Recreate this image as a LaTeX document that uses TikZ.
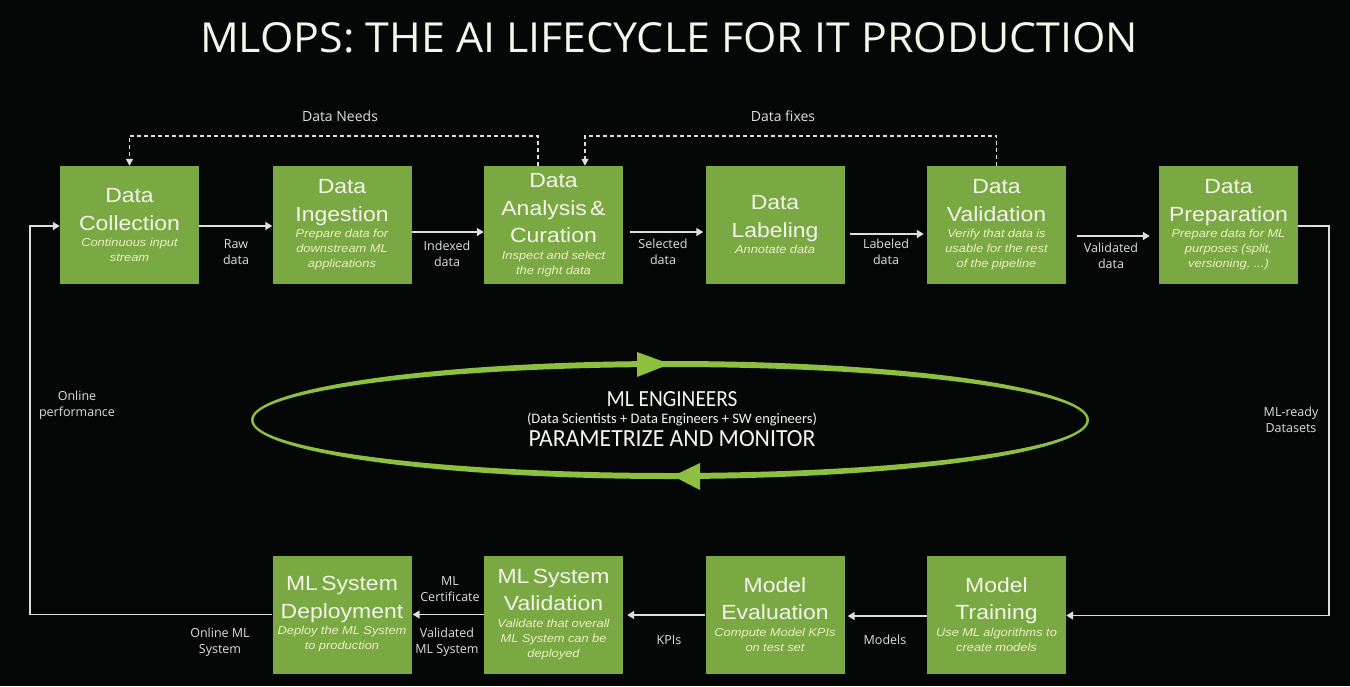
\documentclass[tikz,border=0pt]{standalone}
\usepackage{fontspec}
\usepackage{graphicx}
\usetikzlibrary{arrows.meta,calc}
\setmainfont{Liberation Sans}
\newfontfamily\boxfont[FakeStretch=1.12]{Liberation Sans}
\newfontfamily\labfont{Open Sans}
\newfontfamily\cenfont{Carlito}
\newfontfamily\ttlfont{Open Sans}
\definecolor{boxgreen}{RGB}{122,168,66}
\definecolor{ringgreen}{RGB}{140,192,62}
\definecolor{titlewhite}{RGB}{244,246,236}
\definecolor{subcream}{RGB}{236,240,196}
\definecolor{linegray}{RGB}{222,222,222}
\definecolor{bgcol}{RGB}{5,7,7}
\newcommand{\stagetext}[2]{{\boxfont\fontsize{20.5}{27.5}\selectfont\color{titlewhite}#1\par}\vspace{1.5pt}{\boxfont\itshape\fontsize{11.5}{15}\selectfont\color{subcream}#2\par}}
\tikzset{
  stage/.style={fill=boxgreen, minimum width=139pt, minimum height=118pt, text width=137pt, inner sep=1pt, align=center},
  lab/.style={font=\labfont\fontsize{12.5}{15.5}\selectfont, text=linegray, align=center, inner sep=0pt},
  conn/.style={draw=linegray, line width=1.6pt, -{Triangle[width=8pt,length=7pt]}},
  dconn/.style={draw=linegray, line width=1.4pt, dash pattern=on 4pt off 3pt, -{Triangle[width=7pt,length=7pt]}},
}
\begin{document}
\begin{tikzpicture}[x=1pt,y=-1pt]
\useasboundingbox (0,0) rectangle (1350,686);
\fill[bgcol] (0,0) rectangle (1350,686);

% title
\node[anchor=base west, inner sep=0pt, text=titlewhite] (title) at (200,52) {\resizebox{938pt}{30pt}{\ttlfont\fontsize{40}{40}\selectfont MLOPS: THE AI LIFECYCLE FOR IT PRODUCTION}};

% top row
\node[stage] (dc) at (129.5,225) {\stagetext{Data\\Collection}{Continuous input\\stream}};
\node[stage] (di) at (342,225) {\stagetext{Data\\Ingestion}{Prepare data for\\downstream ML\\applications}};
\node[stage] (da) at (553.5,225) {\stagetext{Data\\Analysis \&\\Curation}{Inspect and select\\the right data}};
\node[stage] (dl) at (775,225) {\stagetext{Data\\Labeling}{Annotate data}};
\node[stage] (dv) at (996.5,225) {\stagetext{Data\\Validation}{Verify that data is\\usable for the rest\\of the pipeline}};
\node[stage] (dp) at (1228.5,225) {\stagetext{Data\\Preparation}{Prepare data for ML\\purposes (split,\\versioning, ...)}};

% bottom row
\node[stage] (md) at (342,614.5) {\stagetext{ML System\\Deployment}{Deploy the ML System\\to production}};
\node[stage] (mv) at (553.5,614.5) {\stagetext{ML System\\Validation}{Validate that overall\\ML System can be\\deployed}};
\node[stage] (me) at (775,614.5) {\stagetext{Model\\Evaluation}{Compute Model KPIs\\on test set}};
\node[stage] (mt) at (996.5,614.5) {\stagetext{Model\\Training}{Use ML algorithms to\\create models}};

% top connectors
\draw[conn] ($(dc.east)+(0,1)$) -- ($(di.west)+(0,1)$);
\draw[conn] ($(di.east)+(0,7)$) -- ($(da.west)+(0,7)$);
\draw[conn, shorten <=7pt, shorten >=2pt] ($(da.east)+(0,7)$) -- ($(dl.west)+(0,7)$);
\draw[conn, shorten <=5pt, shorten >=3pt] ($(dl.east)+(0,9)$) -- ($(dv.west)+(0,9)$);
\draw[conn, shorten <=11pt, shorten >=9pt] ($(dv.east)+(0,11)$) -- ($(dp.west)+(0,11)$);

% bottom connectors
\draw[conn, shorten >=3pt] ($(mt.west)+(0,1.5)$) -- ($(me.east)+(0,1.5)$);
\draw[conn, shorten >=4pt] ($(me.west)+(0,0.5)$) -- ($(mv.east)+(0,0.5)$);
\draw[conn, shorten >=1pt] ($(mv.west)+(0,0)$) -- ($(md.east)+(0,0)$);

% loops
\draw[conn] (md.west) -| ($(dc.west)+(-30,1)$) -- ($(dc.west)+(0,1)$);
\draw[conn] ($(dp.east)+(0,1)$) -- ($(dp.east)+(31,1)$) |- ($(mt.east)+(0,1)$);

% dashed feedback
\draw[dconn] ($(da.north)+(-15.5,0)$) -- ++(0,-30) -| (dc.north);
\draw[dconn] (dv.north) -- ++(0,-30) -| ($(da.north)+(31.5,0)$);

% labels
\node[lab, font=\labfont\fontsize{14}{16}\selectfont] (needs) at (340,116) {Data Needs};
\node[lab, font=\labfont\fontsize{14}{16}\selectfont] (fixes) at (783,116) {Data fixes};
\node[lab] (raw) at (236,252) {Raw\\data};
\node[lab] (idx) at (447,254) {Indexed\\data};
\node[lab] (sel) at (663,252) {Selected\\data};
\node[lab] (lbd) at (886,252) {Labeled\\data};
\node[lab] (vld) at (1111,256) {Validated\\data};
\node[lab] (onp) at (77,405) {Online\\performance};
\node[lab] (mlr) at (1291,420) {ML-ready\\Datasets};
\node[lab] (onml) at (220,642) {Online ML\\System};
\node[lab] (cert) at (450,589) {ML\\Certificate};
\node[lab] (vms) at (447,642) {Validated\\ML System};
\node[lab] (kpi) at (669,640) {KPIs};
\node[lab] (mods) at (885,640) {Models};

% centre ring
\fill[ringgreen, even odd rule] (670,420) ellipse [x radius=419, y radius=59] (670,420) ellipse [x radius=416.5, y radius=53];
\fill[ringgreen] (670,364) -- (637,352) -- (637,377) -- cycle;
\fill[ringgreen] (673,476) -- (700,463) -- (700,490) -- cycle;
\node[anchor=base, inner sep=0pt, text=titlewhite] (mle) at (672,406) {\resizebox{131pt}{15pt}{\cenfont\fontsize{20}{20}\selectfont ML ENGINEERS}};
\node[inner sep=0pt, text=titlewhite] (team) at (672,419) {\resizebox{290pt}{!}{\cenfont\fontsize{13}{13}\selectfont (Data Scientists + Data Engineers + SW engineers)}};
\node[anchor=base, inner sep=0pt, text=titlewhite] (pam) at (672,446) {\resizebox{287pt}{16pt}{\cenfont\fontsize{22}{22}\selectfont PARAMETRIZE AND MONITOR}};
\end{tikzpicture}
\end{document}
